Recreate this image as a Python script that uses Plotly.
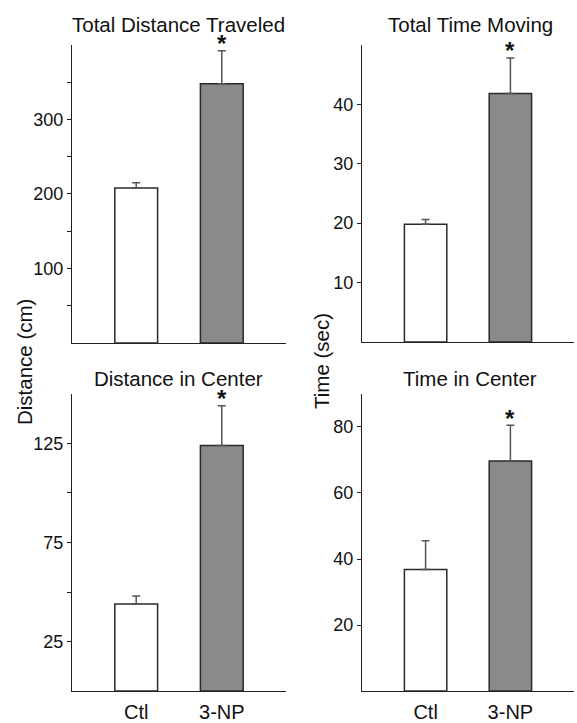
import plotly.graph_objects as go

groups = ["Ctl", "3-NP"]

dist_total = [208, 348]
dist_total_err = [7, 44]
time_moving = [19.8, 41.8]
time_moving_err = [0.8, 6.0]
dist_center = [44, 124]
dist_center_err = [4, 20]
time_center = [36.8, 69.7]
time_center_err = [8.7, 10.8]

titles = ["Total Distance Traveled", "Total Time Moving", "Distance in Center", "Time in Center"]

W, H = 577, 723
FONT = "Liberation Sans, Arial, sans-serif"

def px_x(a, b):
    return [a / W, b / W]

def px_y(top, bottom):
    return [1 - bottom / H, 1 - top / H]

panels = [
    dict(vals=dist_total, errs=dist_total_err, title=titles[0], xd=px_x(72, 286), yd=px_y(45, 344),
         yr=[0, 400], tickvals=[100, 200, 300], minor=[50, 150, 250, 350], xlabels=False, ty=25, tx=178),
    dict(vals=time_moving, errs=time_moving_err, title=titles[1], xd=px_x(362, 574), yd=px_y(45, 343),
         yr=[0, 50], tickvals=[10, 20, 30, 40], minor=[], xlabels=False, ty=25, tx=470),
    dict(vals=dist_center, errs=dist_center_err, title=titles[2], xd=px_x(72, 286), yd=px_y(395, 693),
         yr=[0, 150], tickvals=[25, 75, 125], minor=[50, 100], xlabels=True, ty=380, tx=178),
    dict(vals=time_center, errs=time_center_err, title=titles[3], xd=px_x(362, 574), yd=px_y(395, 693),
         yr=[0, 90], tickvals=[20, 40, 60, 80], minor=[], xlabels=True, ty=380, tx=470),
]

fig = go.Figure()
annotations = []
for i, p in enumerate(panels, start=1):
    xa = "x" if i == 1 else f"x{i}"
    ya = "y" if i == 1 else f"y{i}"
    fig.add_trace(go.Bar(
        x=groups, y=p["vals"], xaxis=xa, yaxis=ya, width=0.5,
        marker=dict(color=["#ffffff", "#8a8a8a"], line=dict(color="#2a2a2a", width=1.5)),
        error_y=dict(type="data", symmetric=False, array=p["errs"], arrayminus=[0, 0],
                     color="#555555", thickness=1.5, width=4),
        showlegend=False, hoverinfo="skip",
    ))
    xkey = "xaxis" if i == 1 else f"xaxis{i}"
    ykey = "yaxis" if i == 1 else f"yaxis{i}"
    fig.layout[xkey] = dict(
        domain=p["xd"], anchor=ya, range=[-0.75, 1.75], showline=True, linecolor="#222222", linewidth=1.2,
        showgrid=False, zeroline=False, ticks="outside", ticklen=3, tickcolor="rgba(0,0,0,0)",
        showticklabels=p["xlabels"],
        tickfont=dict(family=FONT, size=20, color="#111111"), fixedrange=True,
    )
    ydict = dict(
        domain=p["yd"], anchor=xa, range=p["yr"], showline=True, linecolor="#222222", linewidth=1.2,
        showgrid=False, zeroline=False, ticks="outside", ticklen=4, tickcolor="#222222",
        tickvals=p["tickvals"], tickfont=dict(family=FONT, size=18, color="#111111"), fixedrange=True,
    )
    if p["minor"]:
        ydict["minor"] = dict(tickvals=p["minor"], ticks="outside", ticklen=4, tickcolor="#222222", showgrid=False)
    fig.layout[ykey] = ydict
    # panel title
    annotations.append(dict(
        text=p["title"], xref="paper", yref="paper", x=p["tx"] / W, y=1 - p["ty"] / H,
        xanchor="center", yanchor="middle", showarrow=False,
        font=dict(family=FONT, size=20.5, color="#111111"),
    ))
    # significance asterisk
    annotations.append(dict(
        text="<b>*</b>", xref=xa, yref=ya, x=groups[1], y=p["vals"][1] + p["errs"][1],
        xanchor="center", yanchor="middle", showarrow=False, yshift=7,
        font=dict(family=FONT, size=24, color="#111111"),
    ))

annotations.append(dict(
    text="Distance (cm)", xref="paper", yref="paper", x=25 / W, y=1 - 363 / H, textangle=-90,
    xanchor="center", yanchor="middle", showarrow=False, font=dict(family=FONT, size=20.5, color="#111111"),
))
annotations.append(dict(
    text="Time (sec)", xref="paper", yref="paper", x=322 / W, y=1 - 362 / H, textangle=-90,
    xanchor="center", yanchor="middle", showarrow=False, font=dict(family=FONT, size=20.5, color="#111111"),
))

fig.update_layout(
    width=W, height=H, margin=dict(l=0, r=0, t=0, b=0),
    paper_bgcolor="white", plot_bgcolor="white", annotations=annotations,
    font=dict(family=FONT, color="#111111"),
)

fig.write_html("out.html", config={"displayModeBar": False},
               post_script="document.body.style.margin='0';document.body.style.overflow='hidden';")
